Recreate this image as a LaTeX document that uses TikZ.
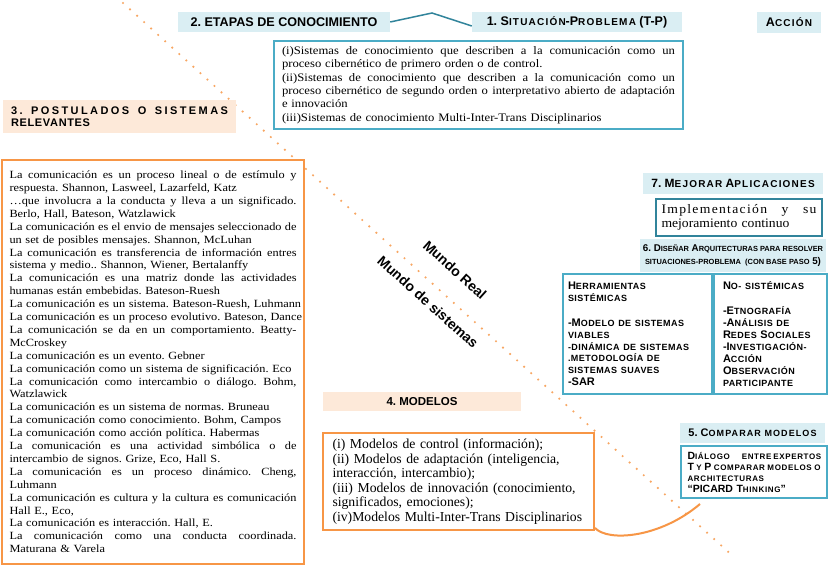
\documentclass[tikz,border=0pt]{standalone}
\usepackage{fontspec}
\usepackage{relsize}
\setmainfont{Liberation Serif}
\setsansfont{Liberation Sans}
\newfontfamily\hb{Liberation Sans}
\newfontfamily\srfw[FakeStretch=1.12]{Liberation Serif}
\newfontfamily\srfs[FakeStretch=1.10]{Liberation Serif}
\newfontfamily\srfm{Liberation Serif}
\newfontfamily\srfi[FakeStretch=1.05]{Liberation Serif}
\definecolor{lblue}{HTML}{DAEEF3}
\definecolor{tealb}{HTML}{4BACC6}
\definecolor{dteal}{HTML}{31849B}
\definecolor{orng}{HTML}{F79646}
\definecolor{peach}{HTML}{FDE9D9}
\newlength\bw
\def\smscale{.8}
\def\smls{12}
\frenchspacing
\newcommand\sm[1]{\textscale{\smscale}{\addfontfeature{LetterSpace=\smls}#1}}
\newcommand\jf[1]{\makebox[\bw][s]{\spaceskip=0pt\xspaceskip=0pt #1}}
\newcommand\jn[1]{\makebox[\bw][l]{#1}}
\tikzset{
  hdr/.style={fill=lblue, inner sep=0pt},
  phdr/.style={fill=peach, inner sep=0pt},
  bbox/.style={draw=tealb, line width=2pt, fill=white, inner sep=0pt},
  obox/.style={draw=orng, line width=2pt, fill=white, inner sep=0pt},
  link/.style={draw=dteal, line width=1.5pt},
  ocurve/.style={draw=orng, line width=2pt},
  dotline/.style={draw=orng!85, line width=2.4pt, line cap=round, dash pattern=on 0pt off 9.5pt},
  world/.style={font=\hb\bfseries\fontsize{14}{16}\selectfont, rotate=-42, inner sep=0pt}
}
\begin{document}
\begin{tikzpicture}[x=1pt,y=-1pt]
\useasboundingbox (0,0) rectangle (830,567);
\fill[white] (0,0) rectangle (830,567);
% dotted diagonal
\coordinate (d1) at (123,3);
\coordinate (d2) at (735,558);
\draw[dotline] (d1) -- (d2);
% world labels
\node[world] (real) at (455,270) {Mundo Real};
\node[world] (sist) at (428,302) {Mundo de sistemas};
% headers
\node[hdr, minimum width=212pt, minimum height=20pt, font=\hb\bfseries\fontsize{12.6}{13}\selectfont] (n2) at (284,22) {2. ETAPAS DE CONOCIMIENTO};
\node[hdr, minimum width=210pt, minimum height=20pt, font=\hb\bfseries\fontsize{12.5}{13}\selectfont] (n1) at (577,22) {1. S\sm{ITUACIÓN}-P\sm{ROBLEMA} (T-P)};
\node[hdr, minimum width=64pt, minimum height=21pt, font=\hb\bfseries\fontsize{12.5}{13}\selectfont] (acc) at (789,22.5) {A\sm{CCIÓN}};
\coordinate (peak) at (432,13);
\draw[link] (n2.east) -- (peak) -- ([yshift=-4pt]n1.west);
% situation box
\node[bbox, minimum width=409pt, minimum height=88pt, text width=393pt, align=left,
  font=\srfs\fontsize{11.5}{13.3}\selectfont\setlength\bw{393pt}] (sit) at (478.5,85) {%
\jf{(i)Sistemas de conocimiento que describen a la comunicación como un}\\
\jn{proceso cibernético de primero orden o de control.}\\
\jf{(ii)Sistemas de conocimiento que describen a la comunicación como un}\\
\jf{proceso cibernético de segundo orden o interpretativo abierto de adaptación}\\
\jn{e innovación}\\
\jn{(iii)Sistemas de conocimiento Multi-Inter-Trans Disciplinarios}};
% postulados header
\node[phdr, minimum width=233pt, minimum height=33pt, text width=217pt, align=left,
  font=\hb\bfseries\fontsize{11}{11.5}\selectfont\setlength\bw{217pt}] (n3) at (119.5,116.5) {%
\jf{\addfontfeature{LetterSpace=22}3. POSTULADOS O SISTEMAS}\\
\jn{\addfontfeature{LetterSpace=6}RELEVANTES}};
% postulados box
\node[obox, minimum width=302pt, minimum height=404pt, text width=287pt, align=left,
  font=\srfw\fontsize{11}{12.9}\selectfont\setlength\bw{287pt}] (post) at (153,362) {%
\jf{La comunicación es un proceso lineal o de estímulo y}\\
\jn{respuesta. Shannon, Lasweel, Lazarfeld, Katz}\\
\jf{…que involucra a la conducta y lleva a un significado.}\\
\jn{Berlo, Hall, Bateson, Watzlawick}\\
\jf{La comunicación es el envio de mensajes seleccionado de}\\
\jn{un set de posibles mensajes. Shannon, McLuhan}\\
\jf{La comunicación es transferencia de información entres}\\
\jn{sistema y medio.. Shannon, Wiener, Bertalanffy}\\
\jf{La comunicación es una matriz donde las actividades}\\
\jn{humanas están embebidas. Bateson-Ruesh}\\
\jn{La comunicación es un sistema. Bateson-Ruesh, Luhmann}\\
\jn{La comunicación es un proceso evolutivo. Bateson, Dance}\\
\jf{La comunicación se da en un comportamiento. Beatty-}\\
\jn{McCroskey}\\
\jn{La comunicación es un evento. Gebner}\\
\jn{La comunicación como un sistema de significación. Eco}\\
\jf{La comunicación como intercambio o diálogo. Bohm,}\\
\jn{Watzlawick}\\
\jn{La comunicación es un sistema de normas. Bruneau}\\
\jn{La comunicación como conocimiento. Bohm, Campos}\\
\jn{La comunicación como acción política. Habermas}\\
\jf{La comunicación es una actividad simbólica o de}\\
\jn{intercambio de signos. Grize, Eco, Hall S.}\\
\jf{La comunicación es un proceso dinámico. Cheng,}\\
\jn{Luhmann}\\
\jf{La comunicación es cultura y la cultura es comunicación}\\
\jn{Hall E., Eco,}\\
\jn{La comunicación es interacción. Hall, E.}\\
\jf{La comunicación como una conducta coordinada.}\\
\jn{Maturana \& Varela}};
% 7
\node[hdr, minimum width=180pt, minimum height=21pt, font=\hb\bfseries\fontsize{12}{13}\selectfont] (n7) at (733,183.5) {7. M\sm{EJORAR} A\sm{PLICACIONES}};
\node[draw=dteal, line width=1.2pt, fill=white, inner sep=0pt, minimum width=166pt, minimum height=37pt,
  text width=155pt, align=left, font=\srfi\fontsize{13}{13.5}\selectfont\setlength\bw{155pt}] (impl) at (739,217.5) {%
\jf{\addfontfeature{LetterSpace=10}Implementación y su}\\
\jn{mejoramiento continuo}};
% 6
\node[hdr, minimum width=186pt, minimum height=33pt, align=center,
  font=\hb\bfseries\fontsize{9.8}{12.5}\selectfont\def\smscale{.76}\def\smls{0}] (n6) at (733,255.5) {%
6. D\sm{ISEÑAR} A\sm{RQUITECTURAS PARA RESOLVER}\\
\sm{SITUACIONES-PROBLEMA\ \ (CON BASE PASO} 5)};
\node[bbox, minimum width=149pt, minimum height=120pt, text width=139pt, align=left,
  font=\hb\bfseries\fontsize{11}{11.8}\selectfont\def\smscale{.8}\def\smls{5}] (herr) at (637.5,334) {%
H\sm{ERRAMIENTAS}\\
\sm{SISTÉMICAS}\\[13pt]
-M\sm{ODELO DE SISTEMAS}\\
\sm{VIABLES}\\
\sm{-DINÁMICA DE SISTEMAS}\\
\sm{.METODOLOGÍA DE}\\
\sm{SISTEMAS SUAVES}\\
-SAR};
\node[bbox, minimum width=113pt, minimum height=120pt, text width=95pt, align=left,
  font=\hb\bfseries\fontsize{11}{11.9}\selectfont\def\smscale{.8}\def\smls{5}] (nosis) at (770.5,334) {%
N\sm{O- SISTÉMICAS}\\[13pt]
-E\sm{TNOGRAFÍA}\\
-A\sm{NÁLISIS DE}\\
R\sm{EDES} S\sm{OCIALES}\\
-I\sm{NVESTIGACIÓN-}\\
A\sm{CCIÓN}\\
O\sm{BSERVACIÓN}\\
\sm{PARTICIPANTE}};
% 4
\node[phdr, minimum width=198pt, minimum height=19pt, font=\hb\bfseries\fontsize{11.5}{13}\selectfont] (n4) at (422,401.5) {4. MODELOS};
\node[obox, minimum width=271pt, minimum height=97pt, text width=252pt, align=left,
  font=\srfm\fontsize{13.7}{14.5}\selectfont] (models) at (458.5,481.5) {%
(i) Modelos de control (información);\\
(ii) Modelos de adaptación (inteligencia,\\
interacción, intercambio);\\
(iii) Modelos de innovación (conocimiento,\\
significados, emociones);\\
(iv)Modelos Multi-Inter-Trans Disciplinarios};
% 5
\node[hdr, minimum width=145pt, minimum height=20pt, font=\hb\bfseries\fontsize{11}{13}\selectfont] (n5) at (752.5,433) {5. C\sm{OMPARAR MODELOS}};
\node[bbox, minimum width=146pt, minimum height=52pt, text width=133pt, align=left,
  font=\hb\bfseries\fontsize{10.5}{11}\selectfont\def\smscale{.75}\def\smls{8}\setlength\bw{133pt}] (dial) at (754,472) {%
\jf{D\sm{IÁLOGO}\hspace{10pt} \sm{ENTRE EXPERTOS}}\\
\jf{T \sm{Y} P \sm{COMPARAR MODELOS O}}\\
\jn{\sm{ARCHITECTURAS}}\\
\jn{“PICARD T\sm{HINKING}”}};
% orange curve
\coordinate (cend) at (700,504);
\draw[ocurve] ([yshift=3pt]models.south east) .. controls (608,542) and (660,538) .. (cend);
\end{tikzpicture}
\end{document}
